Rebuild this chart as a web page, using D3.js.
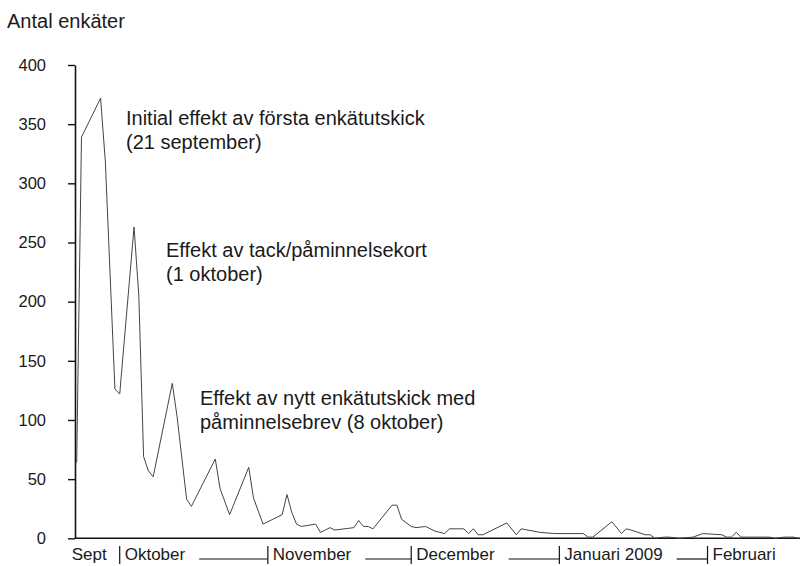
<!DOCTYPE html>
<html>
<head>
<meta charset="utf-8">
<script src="https://cdn.jsdelivr.net/npm/d3@7"></script>
<style>
  body { margin: 0; background: #fff; }
  text { font-family: "Liberation Sans", Arial, Helvetica, sans-serif; fill: #1a1a1a; }
</style>
</head>
<body>
<div id="chart-area"></div>
<script>
// Inkomna enkäter per dag
const datum = [
  "2008-09-22", "2008-09-23", "2008-09-27", "2008-09-28", "2008-09-30",
  "2008-10-01", "2008-10-04", "2008-10-05", "2008-10-06", "2008-10-07", "2008-10-08",
  "2008-10-12", "2008-10-13", "2008-10-15", "2008-10-16", "2008-10-21", "2008-10-22",
  "2008-10-24", "2008-10-28", "2008-10-29", "2008-10-31",
  "2008-11-04", "2008-11-05", "2008-11-06", "2008-11-07", "2008-11-08", "2008-11-11",
  "2008-11-12", "2008-11-13", "2008-11-14", "2008-11-15", "2008-11-19", "2008-11-20",
  "2008-11-21", "2008-11-22", "2008-11-23", "2008-11-27", "2008-11-28", "2008-11-29",
  "2008-12-01", "2008-12-02", "2008-12-04", "2008-12-06", "2008-12-08", "2008-12-09",
  "2008-12-12", "2008-12-13", "2008-12-14", "2008-12-15", "2008-12-16", "2008-12-21",
  "2008-12-23", "2008-12-24", "2008-12-28", "2008-12-31",
  "2009-01-06", "2009-01-07", "2009-01-08", "2009-01-12", "2009-01-14", "2009-01-15",
  "2009-01-16", "2009-01-19", "2009-01-20", "2009-01-21", "2009-01-23", "2009-01-24",
  "2009-01-26", "2009-01-29", "2009-01-31",
  "2009-02-04", "2009-02-05", "2009-02-06", "2009-02-07", "2009-02-08", "2009-02-14",
  "2009-02-15", "2009-02-17", "2009-02-19", "2009-02-20"
];
const antal = [
  64, 339, 372, 318, 126,
  122, 263, 205, 69, 57, 52,
  131, 103, 33, 27, 67, 42,
  20, 60, 34, 12,
  20, 37, 22, 12, 10, 12,
  5, 7, 9, 7, 9, 15,
  10, 10, 8, 28, 28, 16,
  10, 9, 10, 6, 4, 8,
  8, 4, 8, 3, 3, 13,
  3, 8, 5, 4,
  4, 1, 1, 14, 4, 8,
  7, 3, 3, 0, 1, 1,
  0, 1, 4,
  3, 1, 1, 5, 1, 1,
  0, 1, 1, 0
];

const yTicks = [0, 50, 100, 150, 200, 250, 300, 350, 400];

// Månadsetiketter under x-axeln
const manadNamn = ["Sept", "Oktober", "November", "December", "Januari 2009", "Februari"];
const manadStart = ["2008-09-01", "2008-10-01", "2008-11-01", "2008-12-01", "2009-01-01", "2009-02-01"];

// Kommentarer i diagrammet
const kommentarer = [
  ["Initial effekt av första enkätutskick", "(21 september)"],
  ["Effekt av tack/påminnelsekort", "(1 oktober)"],
  ["Effekt av nytt enkätutskick med", "påminnelsebrev (8 oktober)"]
];

const parse = d3.timeParse("%Y-%m-%d");
const data = datum.map((d, i) => ({ dag: parse(d), antal: antal[i] }));

const width = 800, height = 566;

const svg = d3.select("#chart-area")
  .append("svg")
  .attr("width", width)
  .attr("height", height);

// Skalor
const x = d3.scaleTime()
  .domain(d3.extent(data, d => d.dag))
  .range([76.7, 798.3]);

const y = d3.scaleLinear()
  .domain([0, 400])
  .range([538.3, 65]);

// Y-axel
const yAxis = svg.append("g")
  .attr("transform", "translate(75,0)")
  .call(d3.axisLeft(y).tickValues(yTicks).tickSize(7).tickSizeOuter(0).tickPadding(22));
yAxis.select(".domain").attr("stroke", "#111").attr("stroke-width", 1.6);
yAxis.selectAll(".tick line").attr("stroke", "#111").attr("stroke-width", 1.4);
yAxis.selectAll(".tick text")
  .attr("font-size", 16.5)
  .attr("font-family", "Liberation Sans, Arial, sans-serif")
  .attr("fill", "#1a1a1a");

// X-axel (bara linjen)
svg.append("line")
  .attr("x1", 75).attr("x2", width)
  .attr("y1", y(0)).attr("y2", y(0))
  .attr("stroke", "#111").attr("stroke-width", 1.6);

// Linjen
const line = d3.line()
  .x(d => x(d.dag))
  .y(d => y(d.antal));

svg.append("path")
  .datum(data)
  .attr("fill", "none")
  .attr("stroke", "#444")
  .attr("stroke-width", 1)
  .attr("stroke-linejoin", "round")
  .attr("d", line);

// Månader
const labelY = 560;
let prevEnd = null;
manadNamn.forEach((namn, i) => {
  let tx;
  if (i === 0) {
    tx = x.range()[0] - 5;
  } else {
    const xd = x(parse(manadStart[i]));
    svg.append("line")
      .attr("x1", xd).attr("x2", xd)
      .attr("y1", 546).attr("y2", 564)
      .attr("stroke", "#111").attr("stroke-width", 1.2);
    if (prevEnd !== null && prevEnd + 14 < xd - 8) {
      svg.append("line")
        .attr("x1", prevEnd + 14).attr("x2", xd)
        .attr("y1", labelY - 1).attr("y2", labelY - 1)
        .attr("stroke", "#111").attr("stroke-width", 1.2);
    }
    tx = xd + 5;
  }
  const t = svg.append("text")
    .attr("x", tx)
    .attr("y", labelY)
    .attr("font-size", 17)
    .text(namn);
  prevEnd = tx + t.node().getComputedTextLength();
});

// Axeltitel
svg.append("text")
  .attr("x", 7)
  .attr("y", 28)
  .attr("font-size", 20)
  .text("Antal enkäter");

// Kommentarer
const kommentarPos = [[126, 125], [166, 257], [200, 405]];
kommentarer.forEach((rader, i) => {
  const t = svg.append("text")
    .attr("x", kommentarPos[i][0])
    .attr("y", kommentarPos[i][1])
    .attr("font-size", 20);
  rader.forEach((r, j) => {
    t.append("tspan")
      .attr("x", kommentarPos[i][0])
      .attr("dy", j === 0 ? 0 : 24)
      .text(r);
  });
});
</script>
</body>
</html>
